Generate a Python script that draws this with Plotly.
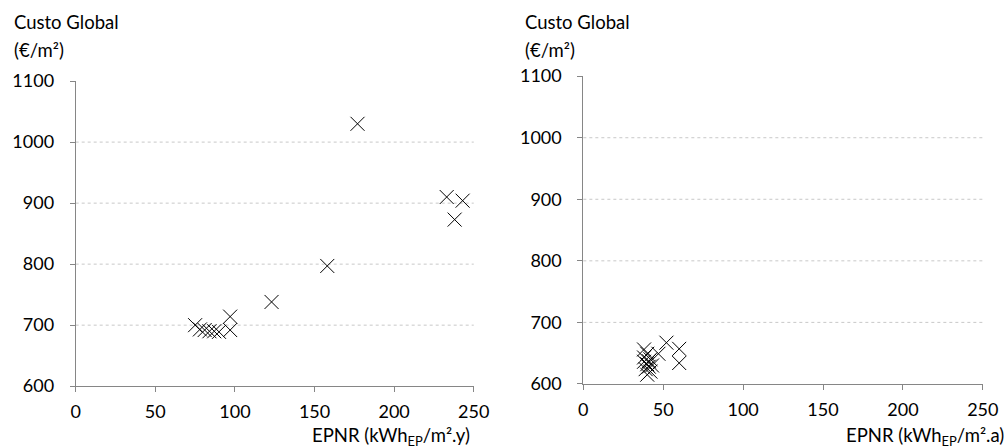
import plotly.graph_objects as go

# Left chart data (EPNR kWh_EP/m².y vs Custo Global €/m²)
left_x = [75, 78, 81, 84, 87, 90, 97, 97, 123, 158, 177, 233, 238, 243]
left_y = [700, 693, 692, 690, 690, 689, 714, 692, 738, 797, 1030, 910, 873, 904]

# Right chart data (EPNR kWh_EP/m².a vs Custo Global €/m²)
right_x = [38, 40, 42, 38, 40, 41, 39, 42, 40, 38, 41, 43, 47, 52, 60, 60]
right_y = [656, 649, 640, 636, 632, 628, 624, 620, 615, 643, 637, 630, 649, 667, 657, 634]

x_ticks = [0, 50, 100, 150, 200, 250]
y_ticks = [600, 700, 800, 900, 1000, 1100]
grid_vals = [700, 800, 900, 1000]

y_title_1 = "Custo Global"
y_title_2 = "(€/m²)"
x_title_left = "EPNR (kWh<sub>EP</sub>/m².y)"
x_title_right = "EPNR (kWh<sub>EP</sub>/m².a)"

FONT = "Lato"
AX = "#868686"
FS = 18
TFS = 18.5

fig = go.Figure()
marker = dict(symbol="x-thin-open", size=14, color="black", line=dict(color="black", width=1))
fig.add_trace(go.Scatter(x=left_x, y=left_y, mode="markers", marker=marker, xaxis="x", yaxis="y",
                         showlegend=False, hoverinfo="skip"))
fig.add_trace(go.Scatter(x=right_x, y=right_y, mode="markers", marker=marker, xaxis="x2", yaxis="y2",
                         showlegend=False, hoverinfo="skip"))

xax = dict(range=[0, 250], tickvals=x_ticks, showgrid=False, zeroline=False, showline=True,
           linecolor=AX, linewidth=1, ticks="outside", ticklen=5, tickcolor=AX, automargin=False,
           ticklabelstandoff=4, tickfont=dict(family=FONT, size=FS, color="black"))
yax = dict(range=[600, 1100], tickvals=y_ticks, showgrid=False, zeroline=False, showline=True,
           linecolor=AX, linewidth=1, ticks="outside", ticklen=5, tickcolor=AX, automargin=False,
           ticklabelstandoff=12, tickfont=dict(family=FONT, size=FS, color="black"))

fig.update_layout(
    width=1008, height=448,
    margin=dict(l=0, r=0, t=0, b=0, autoexpand=False),
    paper_bgcolor="white", plot_bgcolor="white",
    font=dict(family=FONT, size=FS, color="black"),
    xaxis=dict(xax, domain=[0.0751, 0.470], anchor="y"),
    yaxis=dict(yax, domain=[0.138, 0.819], anchor="x"),
    xaxis2=dict(xax, domain=[0.5787, 0.975], anchor="y2"),
    yaxis2=dict(yax, domain=[0.143, 0.830], anchor="x2"),
)

shapes = []
for g in grid_vals:
    for xr, yr in (("x domain", "y"), ("x2 domain", "y2")):
        shapes.append(dict(type="line", xref=xr, yref=yr, x0=0, x1=1, y0=g, y1=g,
                           line=dict(color="#c8c8c8", width=1, dash="dot"), layer="below"))
fig.update_layout(shapes=shapes)

ann = []
for x0 in (12, 523):
    ann.append(dict(text=y_title_1, xref="paper", yref="paper", x=x0/1008, y=1 - 22/448,
                    xanchor="left", yanchor="middle", showarrow=False, align="left",
                    font=dict(family=FONT, size=TFS, color="black")))
    ann.append(dict(text=y_title_2, xref="paper", yref="paper", x=x0/1008, y=1 - 50/448,
                    xanchor="left", yanchor="middle", showarrow=False, align="left",
                    font=dict(family=FONT, size=TFS, color="black")))
ann.append(dict(text=x_title_left, xref="paper", yref="paper", x=472/1008, y=1 - 436/448,
                xanchor="right", yanchor="middle", showarrow=False,
                font=dict(family=FONT, size=TFS, color="black")))
ann.append(dict(text=x_title_right, xref="paper", yref="paper", x=1006/1008, y=1 - 436/448,
                xanchor="right", yanchor="middle", showarrow=False,
                font=dict(family=FONT, size=TFS, color="black")))
fig.update_layout(annotations=ann)

fig.write_html("out.html", config={"displayModeBar": False},
               post_script="document.body.style.margin='0';document.body.style.overflow='hidden';")
